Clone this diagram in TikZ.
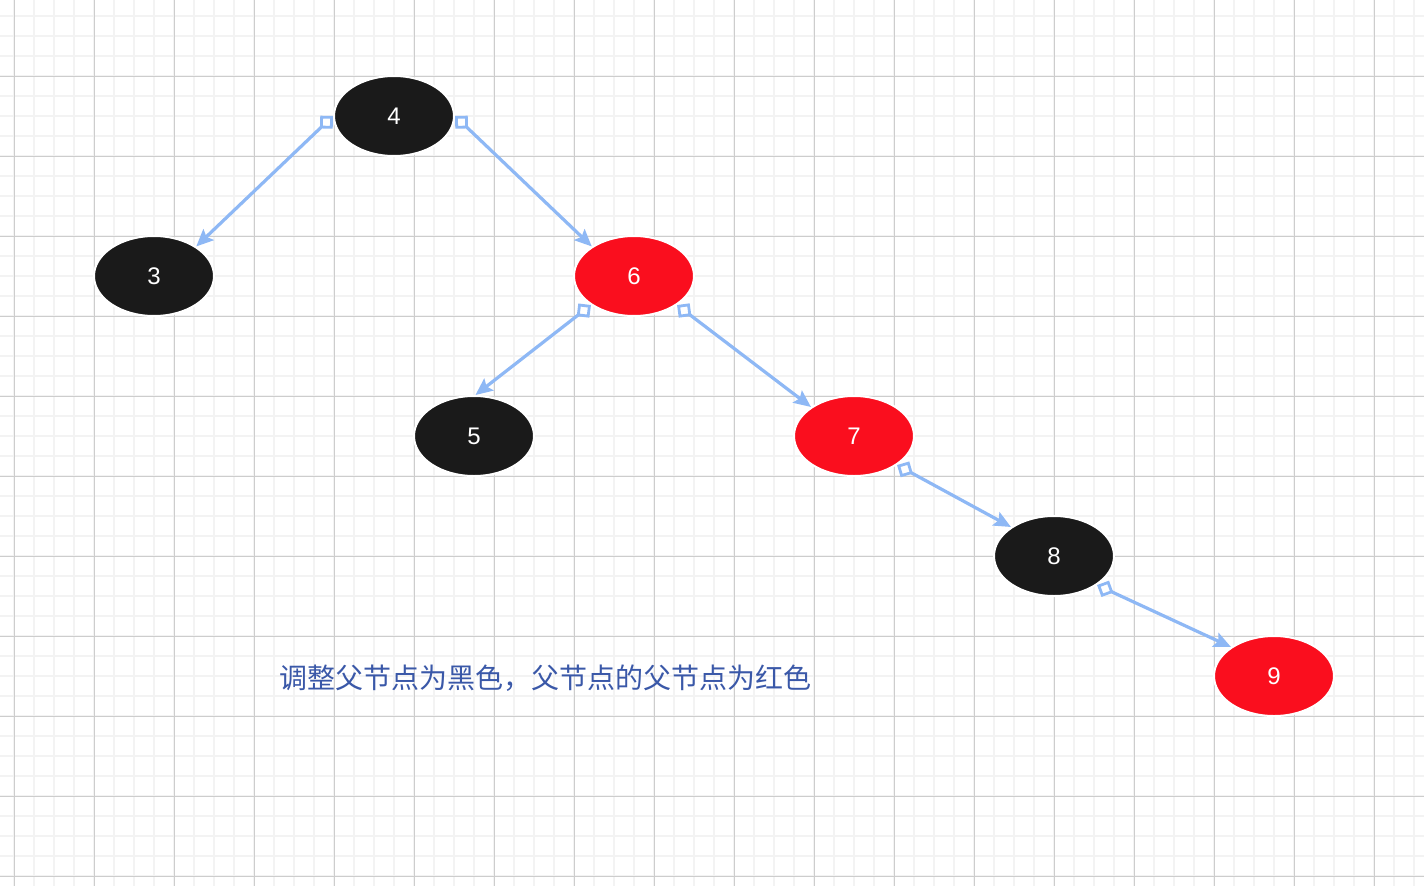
\documentclass[tikz,border=0pt]{standalone}
\usepackage{fontspec}
\setmainfont{Liberation Sans}
\newfontfamily\cjk{Noto Sans CJK SC}
\usetikzlibrary{arrows.meta,shapes.geometric}
\definecolor{nodeblack}{RGB}{26,26,26}
\definecolor{nodered}{RGB}{250,14,30}
\definecolor{linkblue}{RGB}{142,184,245}
\definecolor{noteblue}{RGB}{58,88,168}
\definecolor{minorgrey}{RGB}{243,243,243}
\definecolor{majorgrey}{RGB}{205,205,205}

\begin{document}
\begin{tikzpicture}[x=1pt,y=-1pt,
    bnode/.style={ellipse,draw=white,line width=2pt,fill=nodeblack,minimum width=120pt,minimum height=80pt,inner sep=0pt,text=white,font=\fontsize{24}{28}\selectfont},
    rnode/.style={bnode,fill=nodered},
    link/.style={draw=linkblue,line width=3.2pt,{Diamond[open,line width=2.8pt,length=18pt,width=18pt]}-{Stealth[length=17pt,width=15pt,inset=3pt]}},
    minorline/.style={minorgrey,line width=2pt},
    majorline/.style={majorgrey,line width=1pt}]
    \useasboundingbox[fill=white] (0,0) rectangle (1424,886);
    % grid
    \foreach \gx in {14,34,...,1414} \draw[minorline] (\gx,0) -- (\gx,886);
    \foreach \gy in {16,36,...,876} \draw[minorline] (0,\gy) -- (1424,\gy);
    \foreach \gx in {14,94,...,1374} \draw[majorline] (\gx,0) -- (\gx,886);
    \foreach \gy in {76,156,...,876} \draw[majorline] (0,\gy) -- (1424,\gy);

    \node[bnode] (n4) at (394,116) {4};
    \node[bnode] (n3) at (154,276) {3};
    \node[rnode] (n6) at (634,276) {6};
    \node[bnode] (n5) at (474,436) {5};
    \node[rnode] (n7) at (854,436) {7};
    \node[bnode] (n8) at (1054,556) {8};
    \node[rnode] (n9) at (1274,676) {9};

    \draw[link] (n4.west) to (n3.35);
    \draw[link] (n4.east) to (n6.145);
    \draw[link] (n6.214) to (n5.88);
    \draw[link] (n6.326) to (n7.146);
    \draw[link] (n7.326) to (n8.146);
    \draw[link] (n8.326) to (n9.146);

    \node[text=noteblue,font=\cjk\fontsize{28}{34}\selectfont] (note) at (545,678) {调整父节点为黑色，父节点的父节点为红色};
\end{tikzpicture}
\end{document}
